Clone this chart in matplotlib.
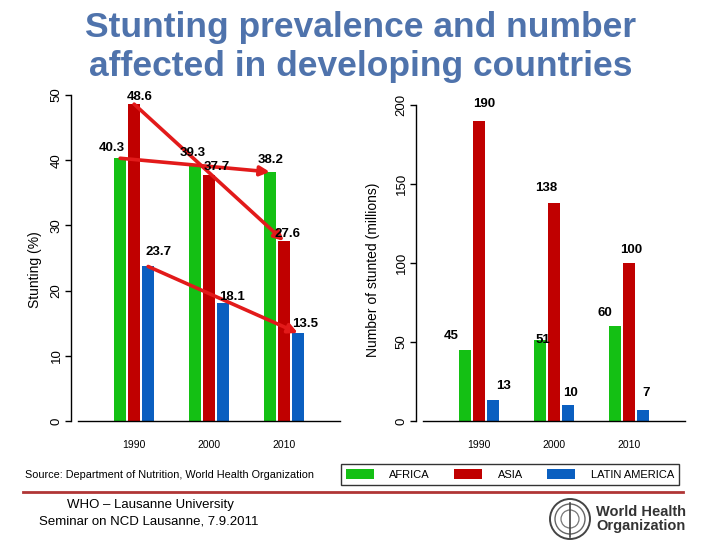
import matplotlib
matplotlib.use("Agg")
import matplotlib.pyplot as plt
from matplotlib.lines import Line2D
from matplotlib.patches import Ellipse, Patch
import numpy as np

plt.rcParams['font.family'] = ['Liberation Sans', 'DejaVu Sans']

# data
years = ['1990', '2000', '2010']
regions = ['AFRICA', 'ASIA', 'LATIN AMERICA']
prevalence = {
    'AFRICA': [40.3, 39.3, 38.2],
    'ASIA': [48.6, 37.7, 27.6],
    'LATIN AMERICA': [23.7, 18.1, 13.5],
}
stunted_millions = {
    'AFRICA': [45, 51, 60],
    'ASIA': [190, 138, 100],
    'LATIN AMERICA': [13, 10, 7],
}

colors = {'AFRICA': '#14c014', 'ASIA': '#c00000', 'LATIN AMERICA': '#0a5fc0'}
arrow_color = '#e21a1a'

# label nudges in pixels (dx, dy), per region and year
left_offsets = {
    'AFRICA': [(-8, 10), (-2, 12), (1, 12)],
    'ASIA': [(6, 7), (8, 8), (4, 7)],
    'LATIN AMERICA': [(10, 14), (9, 6), (7, 9)],
}
right_offsets = {
    'AFRICA': [(-14, 14), (3, 0), (-10, 13)],
    'ASIA': [(5, 17), (-8, 15), (2, 13)],
    'LATIN AMERICA': [(10, 14), (3, 12), (3, 17)],
}

W, H = 720, 540
fig = plt.figure(figsize=(7.2, 5.4), dpi=100)

bar_w = 0.16
step = 0.187
x = np.arange(len(years))


def px_axes(left, top, right, bottom):
    return fig.add_axes([left / W, 1 - bottom / H, (right - left) / W, (bottom - top) / H])


def style_axis(ax, ymax, yticks, ylabel, lab_x):
    ax.set_xlim(-0.75, 2.75)
    ax.set_ylim(0, ymax)
    for s in ['top', 'right']:
        ax.spines[s].set_visible(False)
    ax.spines['left'].set_position(('outward', 5))
    ax.spines['left'].set_linewidth(1)
    ax.spines['bottom'].set_linewidth(1)
    ax.set_yticks(yticks)
    ax.set_yticklabels([str(t) for t in yticks], rotation=90, va='center', fontsize=9.5)
    ax.tick_params(axis='y', length=4, width=1, pad=2)
    ax.set_xticks(x)
    ax.set_xticklabels(years, fontsize=7.5)
    ax.tick_params(axis='x', length=0, pad=14)
    ax.set_ylabel(ylabel, fontsize=10)
    ax.yaxis.set_label_coords(lab_x, 0.5, transform=fig.transFigure)


def draw_bars(ax, data, offsets):
    for i, r in enumerate(regions):
        xs = x + (i - 1) * step
        ax.bar(xs, data[r], width=bar_w, color=colors[r], zorder=2)
        for xi, v, (dx, dy) in zip(xs, data[r], offsets[r]):
            ax.annotate(f'{v}', (xi, v), xytext=(dx, dy), textcoords='offset pixels',
                        ha='center', va='center', fontsize=9.5, fontweight='bold', zorder=4)


# left: prevalence
ax1 = px_axes(78, 95, 340, 421)
draw_bars(ax1, prevalence, left_offsets)
style_axis(ax1, 50, [0, 10, 20, 30, 40, 50], 'Stunting (%)', 42 / W)
for i, r in enumerate(regions):
    xs = x + (i - 1) * step
    vals = prevalence[r]
    ax1.annotate('', xy=(xs[-1], vals[-1]), xytext=(xs[0], vals[0]),
                 arrowprops=dict(arrowstyle='-|>', color=arrow_color, lw=2.6,
                                 mutation_scale=14, shrinkA=0, shrinkB=0),
                 zorder=3)

# right: number stunted
ax2 = px_axes(423, 105, 685, 421)
draw_bars(ax2, stunted_millions, right_offsets)
style_axis(ax2, 200, [0, 50, 100, 150, 200], 'Number of stunted (millions)', 380 / W)

# title
fig.text(361 / W, 1 - 47 / H, 'Stunting prevalence and number\naffected in developing countries',
         ha='center', va='center', fontsize=25.5, fontweight='bold', color='#4f73ac',
         linespacing=1.23)

# source and legend
fig.text(25 / W, 1 - 475 / H, 'Source: Department of Nutrition, World Health Organization',
         ha='left', va='center', fontsize=7.8)
handles = [Patch(facecolor=colors[r], edgecolor='none', label=r) for r in regions]
leg = fig.legend(handles=handles, ncol=3, loc='center',
                 bbox_to_anchor=(510 / W, 1 - 474.5 / H), frameon=True, fancybox=False,
                 fontsize=8, handlelength=2.5, handleheight=0.9, handletextpad=1.4,
                 columnspacing=2.2, borderpad=0.45, borderaxespad=0)
leg.get_frame().set_edgecolor('black')
leg.get_frame().set_linewidth(1)

# separator and footer
fig.add_artist(Line2D([23 / W, 683 / W], [1 - 492 / H, 1 - 492 / H], color='#b03535', lw=2))
fig.text(150 / W, 1 - 505 / H, 'WHO \u2013 Lausanne University', ha='center', va='center', fontsize=9.5)
fig.text(149 / W, 1 - 521 / H, 'Seminar on NCD Lausanne, 7.9.2011', ha='center', va='center', fontsize=9.5)

# WHO emblem, roughly
cx, cy = 570, 519
for d, c, lw in [(40, '#444444', 1.4), (30, '#666666', 1.0), (18, '#777777', 0.9)]:
    fig.add_artist(Ellipse((cx / W, 1 - cy / H), d / W, d / H, transform=fig.transFigure,
                           facecolor='none', edgecolor=c, lw=lw))
fig.add_artist(Line2D([cx / W, cx / W], [1 - (cy - 16) / H, 1 - (cy + 18) / H], color='#444444', lw=1.2))
fig.text(596 / W, 1 - 519 / H, 'World Health\nOrganization', ha='left', va='center',
         fontsize=10.5, fontweight='bold', color='#333333', linespacing=1.0)

fig.savefig('out.png', dpi=100)
